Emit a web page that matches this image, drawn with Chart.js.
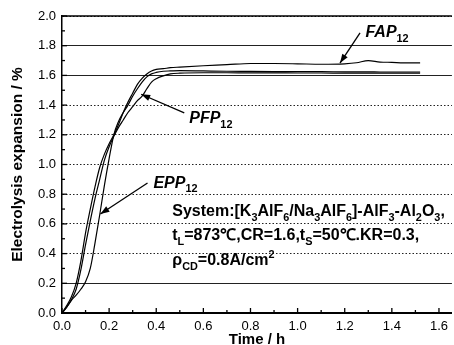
<!DOCTYPE html>
<html>
<head>
<meta charset="utf-8">
<script src="https://cdn.jsdelivr.net/npm/chart.js@4.4.1/dist/chart.umd.min.js"></script>
<style>
  html, body { margin: 0; padding: 0; background: #fff; }
  #c { display: block; }
</style>
</head>
<body>
<canvas id="c" width="454" height="345"></canvas>
<script>
// ---- data ----
const timeHours = [0, 0.02, 0.04, 0.06, 0.08, 0.10, 0.12, 0.14, 0.16, 0.18, 0.20, 0.22, 0.24, 0.26, 0.28, 0.30, 0.32, 0.34, 0.36, 0.38, 0.40, 0.43, 0.46, 0.50, 0.60, 0.70, 0.80, 0.90, 1.00, 1.10, 1.20, 1.25, 1.30, 1.35, 1.40, 1.45, 1.52];
const fapExpansion = [0, 0.05, 0.11, 0.20, 0.35, 0.54, 0.70, 0.85, 0.98, 1.07, 1.14, 1.20, 1.27, 1.35, 1.42, 1.48, 1.54, 1.58, 1.61, 1.63, 1.64, 1.645, 1.652, 1.656, 1.665, 1.672, 1.68, 1.68, 1.678, 1.675, 1.678, 1.685, 1.70, 1.69, 1.688, 1.685, 1.685];
const pfpExpansion = [0, 0.04, 0.09, 0.16, 0.29, 0.46, 0.62, 0.77, 0.90, 1.03, 1.12, 1.19, 1.25, 1.30, 1.35, 1.39, 1.43, 1.46, 1.51, 1.555, 1.578, 1.597, 1.61, 1.615, 1.618, 1.618, 1.617, 1.617, 1.616, 1.616, 1.615, 1.615, 1.615, 1.615, 1.615, 1.615, 1.615];
const eppExpansion = [0, 0.04, 0.085, 0.12, 0.16, 0.21, 0.30, 0.47, 0.66, 0.86, 1.04, 1.20, 1.29, 1.35, 1.40, 1.46, 1.51, 1.555, 1.59, 1.61, 1.62, 1.628, 1.63, 1.632, 1.63, 1.628, 1.627, 1.626, 1.625, 1.625, 1.624, 1.624, 1.624, 1.623, 1.623, 1.623, 1.623];
const xTickValues = [0, 0.2, 0.4, 0.6, 0.8, 1.0, 1.2, 1.4, 1.6];
const yTickValues = [0, 0.2, 0.4, 0.6, 0.8, 1.0, 1.2, 1.4, 1.6, 1.8, 2.0];
const solidGridValues = [0.2, 1.6, 1.8];

const FONT = '"Liberation Sans", Arial, Helvetica, sans-serif';

function toPoints(vals) { return timeHours.map((t, i) => ({ x: t, y: vals[i] })); }

function drawRich(ctx, x, y, parts, size, style) {
  let cx = x;
  ctx.textBaseline = 'alphabetic';
  ctx.textAlign = 'left';
  for (const [txt, kind] of parts) {
    const fs = kind ? size * 0.68 : size;
    const st = kind ? '' : (style || '');
    ctx.font = `${st} bold ${fs}px ${FONT}`;
    const dy = kind === 'sub' ? size * 0.3 : (kind === 'sup' ? -size * 0.42 : 0);
    ctx.fillText(txt, cx, y + dy);
    cx += ctx.measureText(txt).width;
  }
}

function arrow(ctx, x1, y1, x2, y2) {
  ctx.beginPath();
  ctx.moveTo(x1, y1);
  ctx.lineTo(x2, y2);
  ctx.lineWidth = 1.3;
  ctx.strokeStyle = '#000';
  ctx.stroke();
  const a = Math.atan2(y2 - y1, x2 - x1);
  const L = 9, W = 3.2;
  ctx.beginPath();
  ctx.moveTo(x2, y2);
  ctx.lineTo(x2 - L * Math.cos(a) + W * Math.sin(a), y2 - L * Math.sin(a) - W * Math.cos(a));
  ctx.lineTo(x2 - L * Math.cos(a) - W * Math.sin(a), y2 - L * Math.sin(a) + W * Math.cos(a));
  ctx.closePath();
  ctx.fillStyle = '#000';
  ctx.fill();
}

const decorPlugin = {
  id: 'decor',
  afterDraw(chart) {
    const { ctx, chartArea: ca } = chart;
    const xs = chart.scales.x, ys = chart.scales.y;
    ctx.save();
    ctx.strokeStyle = '#000';
    // top frame line
    ctx.lineWidth = 1.5;
    ctx.beginPath();
    ctx.moveTo(ca.left, ca.top);
    ctx.lineTo(ca.right, ca.top);
    ctx.stroke();
    // inner ticks
    ctx.lineWidth = 1.3;
    xTickValues.forEach((v) => {
      const px = xs.getPixelForValue(v);
      ctx.beginPath(); ctx.moveTo(px, ca.bottom); ctx.lineTo(px, ca.bottom - 5); ctx.stroke();
      const m = v + 0.1;
      if (m < xs.max) {
        const pm = xs.getPixelForValue(m);
        ctx.beginPath(); ctx.moveTo(pm, ca.bottom); ctx.lineTo(pm, ca.bottom - 3); ctx.stroke();
      }
    });
    yTickValues.forEach((v) => {
      const py = ys.getPixelForValue(v);
      ctx.beginPath(); ctx.moveTo(ca.left, py); ctx.lineTo(ca.left + 5, py); ctx.stroke();
      const m = v + 0.1;
      if (m < ys.max) {
        const pm = ys.getPixelForValue(m);
        ctx.beginPath(); ctx.moveTo(ca.left, pm); ctx.lineTo(ca.left + 3, pm); ctx.stroke();
      }
    });

    const P = (x, y) => [xs.getPixelForValue(x), ys.getPixelForValue(y)];
    ctx.fillStyle = '#000';

    // curve labels
    let [lx, ly] = P(1.288, 1.86);
    drawRich(ctx, lx, ly, [['FAP', null], ['12', 'sub']], 16, 'italic');
    [lx, ly] = P(0.54, 1.28);
    drawRich(ctx, lx, ly, [['PFP', null], ['12', 'sub']], 16, 'italic');
    [lx, ly] = P(0.388, 0.845);
    drawRich(ctx, lx, ly, [['EPP', null], ['12', 'sub']], 16, 'italic');

    // arrows
    let a = P(1.265, 1.886), b = P(1.18, 1.683);
    arrow(ctx, a[0], a[1], b[0], b[1]);
    a = P(0.519, 1.347); b = P(0.336, 1.473);
    arrow(ctx, a[0], a[1], b[0], b[1]);
    a = P(0.363, 0.875); b = P(0.163, 0.667);
    arrow(ctx, a[0], a[1], b[0], b[1]);

    // conditions text
    [lx, ly] = P(0.468, 0.652);
    drawRich(ctx, lx, ly, [['System:[K', null], ['3', 'sub'], ['AlF', null], ['6', 'sub'], ['/Na', null], ['3', 'sub'], ['AlF', null], ['6', 'sub'], [']-AlF', null], ['3', 'sub'], ['-Al', null], ['2', 'sub'], ['O', null], ['3', 'sub'], [',', null]], 16);
    [lx, ly] = P(0.468, 0.49);
    drawRich(ctx, lx, ly, [['t', null], ['L', 'sub'], ['=873℃,CR=1.6,t', null], ['S', 'sub'], ['=50℃.KR=0.3,', null]], 16);
    [lx, ly] = P(0.468, 0.323);
    drawRich(ctx, lx, ly, [['ρ', null], ['CD', 'sub'], ['=0.8A/cm', null], ['2', 'sup']], 16);
    ctx.restore();
  }
};

const lineStyle = { borderColor: '#000', borderWidth: 1.2, pointRadius: 0, fill: false, cubicInterpolationMode: 'monotone' };

new Chart(document.getElementById('c'), {
  type: 'line',
  data: {
    datasets: [
      Object.assign({ label: 'FAP12', data: toPoints(fapExpansion) }, lineStyle),
      Object.assign({ label: 'PFP12', data: toPoints(pfpExpansion) }, lineStyle),
      Object.assign({ label: 'EPP12', data: toPoints(eppExpansion) }, lineStyle)
    ]
  },
  options: {
    responsive: false,
    devicePixelRatio: 1,
    animation: false,
    layout: { padding: { top: 16, right: 0, bottom: 0, left: 0 } },
    plugins: { legend: { display: false }, tooltip: { enabled: false } },
    scales: {
      x: {
        type: 'linear', position: 'bottom', min: 0, max: 1.655,
        afterBuildTicks: (s) => { s.ticks = xTickValues.map(v => ({ value: v })); },
        afterFit: (s) => { s.height = 32; },
        grid: { display: false, drawTicks: false },
        border: { display: true, color: '#000', width: 2 },
        ticks: { font: { family: FONT, size: 13 }, color: '#000', padding: 6, maxRotation: 0, autoSkip: false,
                 callback: (v) => Number(v).toFixed(1) },
        title: { display: true, text: 'Time / h', color: '#000', font: { family: FONT, size: 15, weight: 'bold', lineHeight: 1 },
                 padding: { top: 0, bottom: -2 } }
      },
      y: {
        type: 'linear', min: 0, max: 2,
        afterBuildTicks: (s) => { s.ticks = yTickValues.map(v => ({ value: v })); },
        afterFit: (s) => { s.width = 62; },
        grid: { display: true, drawTicks: false, color: '#222', lineWidth: 1 },
        border: { display: true, color: '#000', width: 1.5,
                  dash: (ctx) => (ctx.tick && solidGridValues.some(v => Math.abs(v - ctx.tick.value) < 1e-6)) ? [] : [1.5, 2] },
        ticks: { font: { family: FONT, size: 13 }, color: '#000', padding: 6,
                 callback: (v) => Number(v).toFixed(1) },
        title: { display: true, text: 'Electrolysis expansion / %', color: '#000', font: { family: FONT, size: 15.5, weight: 'bold', lineHeight: 1 },
                 padding: { top: 10, bottom: 0 } }
      }
    }
  },
  plugins: [decorPlugin]
});
</script>
</body>
</html>
